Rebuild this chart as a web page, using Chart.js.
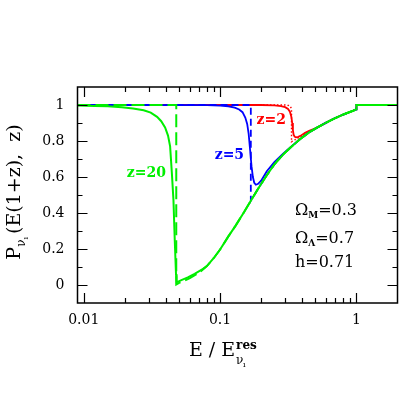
<!DOCTYPE html>
<html>
<head>
<meta charset="utf-8">
<script src="https://cdn.jsdelivr.net/npm/chart.js@4.4.0/dist/chart.umd.min.js"></script>
<style>
  html, body { margin: 0; padding: 0; background: #fff; }
</style>
</head>
<body>
<canvas id="chart" width="420" height="420"></canvas>
<script>
// E / E_res and survival probability P for each redshift
const z20E = [0.009, 0.012, 0.015, 0.019, 0.023, 0.0275, 0.031, 0.0345, 0.037, 0.0395, 0.0415, 0.043, 0.0443, 0.0455, 0.0465, 0.0475, 0.048, 0.052, 0.058, 0.065, 0.075, 0.08, 0.09, 0.1, 0.115, 0.13, 0.15, 0.168, 0.19, 0.22, 0.25, 0.29, 0.33, 0.385, 0.45, 0.51, 0.6, 0.675, 0.8, 0.945, 0.997, 1.0, 2];
const z20P = [0.997, 0.995, 0.993, 0.988, 0.981, 0.971, 0.958, 0.934, 0.91, 0.875, 0.83, 0.77, 0.62, 0.47, 0.25, 0.06, 0.015, 0.027, 0.042, 0.062, 0.09, 0.105, 0.15, 0.197, 0.27, 0.33, 0.405, 0.468, 0.535, 0.61, 0.67, 0.725, 0.765, 0.81, 0.848, 0.873, 0.902, 0.922, 0.947, 0.968, 0.976, 1, 1];

const z20AsymE = [0.009, 0.0477, 0.0477, 0.05, 0.055, 0.06, 0.07, 0.08, 0.09, 0.1, 0.115, 0.13, 0.15, 0.168, 0.19, 0.22, 0.25, 0.29, 0.33, 0.385, 0.45, 0.51, 0.6, 0.675, 0.8, 0.945, 0.997, 1.0, 2];
const z20AsymP = [1, 1, 0.003, 0.012, 0.024, 0.038, 0.068, 0.105, 0.15, 0.197, 0.27, 0.33, 0.405, 0.468, 0.535, 0.61, 0.67, 0.725, 0.765, 0.81, 0.848, 0.873, 0.902, 0.922, 0.947, 0.968, 0.976, 1, 1];

const z5E = [0.009, 0.08, 0.1, 0.115, 0.128, 0.138, 0.146, 0.153, 0.158, 0.162, 0.166, 0.17, 0.174, 0.178, 0.183, 0.19, 0.2, 0.22, 0.25, 0.29, 0.33, 0.385, 0.45, 0.51, 0.6, 0.675, 0.8, 0.945, 0.997, 1.0, 2];
const z5P = [1, 0.999, 0.997, 0.993, 0.985, 0.975, 0.96, 0.93, 0.895, 0.84, 0.75, 0.66, 0.6, 0.568, 0.557, 0.562, 0.58, 0.632, 0.683, 0.73, 0.767, 0.81, 0.848, 0.873, 0.902, 0.922, 0.947, 0.968, 0.976, 1, 1];

const z5AsymE = [0.009, 0.168, 0.168, 0.19, 0.22, 0.25, 0.29, 0.33, 0.385, 0.45, 0.51, 0.6, 0.675, 0.8, 0.945, 0.997, 1.0, 2];
const z5AsymP = [1, 1, 0.468, 0.535, 0.61, 0.67, 0.725, 0.765, 0.81, 0.848, 0.873, 0.902, 0.922, 0.947, 0.968, 0.976, 1, 1];

const z2E = [0.009, 0.2, 0.25, 0.28, 0.3, 0.315, 0.325, 0.333, 0.338, 0.342, 0.346, 0.352, 0.36, 0.375, 0.395, 0.42, 0.45, 0.51, 0.6, 0.675, 0.8, 0.945, 0.997, 1.0, 2];
const z2P = [1, 1, 0.998, 0.994, 0.988, 0.978, 0.963, 0.935, 0.9, 0.86, 0.835, 0.824, 0.82, 0.823, 0.832, 0.845, 0.857, 0.873, 0.902, 0.922, 0.947, 0.968, 0.976, 1, 1];

const z2AsymE = [0.009, 0.3, 0.318, 0.328, 0.334, 0.334, 0.35, 0.38, 0.42, 0.46, 0.51, 0.6, 0.675, 0.8, 0.945, 0.997, 1.0, 2];
const z2AsymP = [1, 1, 0.997, 0.99, 0.98, 0.796, 0.805, 0.82, 0.838, 0.855, 0.873, 0.902, 0.922, 0.947, 0.968, 0.976, 1, 1];

const xTickValues = [0.01, 0.1, 1];
const yTickValues = [0, 0.2, 0.4, 0.6, 0.8, 1];

const GREEN = "#00ee00";
const BLUE = "#0000ff";
const RED = "#ff0000";
const SERIF = "'DejaVu Serif', serif";

const pts = (xs, ys) => xs.map((x, i) => ({ x: x, y: ys[i] }));

// draws a list of text pieces in a row, centred on x
function drawRuns(ctx, x, y, runs) {
  let w = 0;
  runs.forEach((r) => { ctx.font = r.font; w += ctx.measureText(r.text).width + (r.gap || 0); });
  let cx = x - w / 2;
  runs.forEach((r) => {
    ctx.font = r.font;
    ctx.fillText(r.text, cx, y + (r.dy || 0));
    cx += ctx.measureText(r.text).width + (r.gap || 0);
  });
  return cx;
}

const framePlugin = {
  id: "frame",
  afterDatasetsDraw(chart) {
    const ctx = chart.ctx;
    const a = chart.chartArea;
    const xs = chart.scales.x;
    const ys = chart.scales.y;
    ctx.save();
    ctx.strokeStyle = "#000";
    ctx.lineWidth = 1.5;
    ctx.strokeRect(a.left, a.top, a.right - a.left, a.bottom - a.top);
    ctx.lineWidth = 1.2;
    ctx.beginPath();
    // log minor / major ticks, inward on top and bottom
    [0.01, 0.1, 1].forEach((dec) => {
      for (let k = 1; k <= 9; k++) {
        const v = k * dec;
        if (v <= xs.min || v >= xs.max) continue;
        const px = Math.round(xs.getPixelForValue(v)) + 0.5;
        const len = k === 1 ? 10 : 5;
        ctx.moveTo(px, a.bottom); ctx.lineTo(px, a.bottom - len);
        ctx.moveTo(px, a.top); ctx.lineTo(px, a.top + len);
      }
    });
    for (let i = 0; i <= 10; i++) {
      const v = i / 10;
      const py = Math.round(ys.getPixelForValue(v)) + 0.5;
      const len = i % 2 === 0 ? 10 : 5;
      ctx.moveTo(a.left, py); ctx.lineTo(a.left + len, py);
      ctx.moveTo(a.right, py); ctx.lineTo(a.right - len, py);
    }
    ctx.stroke();

    ctx.fillStyle = "#000";
    ctx.textBaseline = "alphabetic";
    ctx.textAlign = "left";

    // y axis title
    ctx.save();
    ctx.translate(20, 192);
    ctx.rotate(-Math.PI / 2);
    drawRuns(ctx, 0, 0, [
      { text: "P", font: "19px " + SERIF },
      { text: "ν", font: "12px " + SERIF, dy: 5 },
      { text: "ı", font: "8px " + SERIF, dy: 8, gap: 3 },
      { text: "(E(1+z),  z)", font: "19px " + SERIF },
    ]);
    ctx.restore();

    // x axis title
    const xEnd = drawRuns(ctx, 212, 356, [{ text: "E / E", font: "19px " + SERIF }]);
    ctx.font = "bold 12px " + SERIF;
    ctx.fillText("res", xEnd + 1, 349);
    ctx.font = "12px " + SERIF;
    ctx.fillText("ν", xEnd + 1, 364);
    ctx.font = "8px " + SERIF;
    ctx.fillText("ı", xEnd + 8, 367);

    // curve labels
    ctx.textBaseline = "middle";
    const zLabels = [
      { text: "z=20", x: 0.0288, y: 0.618, color: GREEN },
      { text: "z=5", x: 0.117, y: 0.72, color: BLUE },
      { text: "z=2", x: 0.237, y: 0.915, color: RED },
    ];
    zLabels.forEach((l) => {
      ctx.fillStyle = l.color;
      drawRuns(ctx, xs.getPixelForValue(l.x), ys.getPixelForValue(l.y), [{ text: l.text, font: "bold 14px " + SERIF }]);
    });

    // cosmology
    ctx.fillStyle = "#000";
    ctx.textBaseline = "alphabetic";
    const lx = xs.getPixelForValue(0.354);
    const big = "16px " + SERIF;
    const sub = "bold 9px " + SERIF;
    const put = (runs, y) => {
      let cx = lx;
      runs.forEach((r) => {
        ctx.font = r.font;
        ctx.fillText(r.text, cx, y + (r.dy || 0));
        cx += ctx.measureText(r.text).width;
      });
    };
    put([{ text: "Ω", font: big }, { text: "M", font: sub, dy: 3 }, { text: "=0.3", font: big }], ys.getPixelForValue(0.39));
    put([{ text: "Ω", font: big }, { text: "Λ", font: sub, dy: 3 }, { text: "=0.7", font: big }], ys.getPixelForValue(0.235));
    put([{ text: "h=0.71", font: big }], ys.getPixelForValue(0.099));
    ctx.restore();
  },
};

new Chart(document.getElementById("chart"), {
  type: "line",
  data: {
    datasets: [
      { data: pts(z20E, z20P), borderColor: GREEN, borderWidth: 2 },
      { data: pts(z20AsymE, z20AsymP), borderColor: GREEN, borderWidth: 2, borderDash: [13, 5] },
      { data: pts(z5E, z5P), borderColor: BLUE, borderWidth: 1.8 },
      { data: pts(z5AsymE, z5AsymP), borderColor: BLUE, borderWidth: 1.8, borderDash: [7, 4] },
      { data: pts(z2E, z2P), borderColor: RED, borderWidth: 1.8 },
      { data: pts(z2AsymE, z2AsymP), borderColor: RED, borderWidth: 1.4, borderDash: [1.5, 2] },
    ],
  },
  options: {
    responsive: false,
    animation: false,
    devicePixelRatio: 1,
    layout: { padding: { left: 0, top: 87, right: 22.5, bottom: 0 } },
    elements: { point: { radius: 0 }, line: { tension: 0, fill: false } },
    plugins: { legend: { display: false }, tooltip: { enabled: false } },
    scales: {
      x: {
        type: "logarithmic",
        min: 0.009,
        max: 2,
        grid: { display: false, drawTicks: false },
        border: { display: false },
        afterBuildTicks: (s) => { s.ticks = xTickValues.map((v) => ({ value: v })); },
        afterFit: (s) => { s.height = 117; },
        ticks: {
          color: "#000",
          font: { family: SERIF, size: 14 },
          padding: 9,
          maxRotation: 0,
          autoSkip: false,
          callback: (v) => String(v),
        },
      },
      y: {
        type: "linear",
        min: -0.1,
        max: 1.1,
        grid: { display: false, drawTicks: false },
        border: { display: false },
        afterBuildTicks: (s) => { s.ticks = yTickValues.map((v) => ({ value: v })); },
        afterFit: (s) => { s.width = 77.5; },
        ticks: {
          color: "#000",
          font: { family: SERIF, size: 14 },
          padding: 13,
          callback: (v) => String(v),
        },
      },
    },
  },
  plugins: [framePlugin],
});
</script>
</body>
</html>
